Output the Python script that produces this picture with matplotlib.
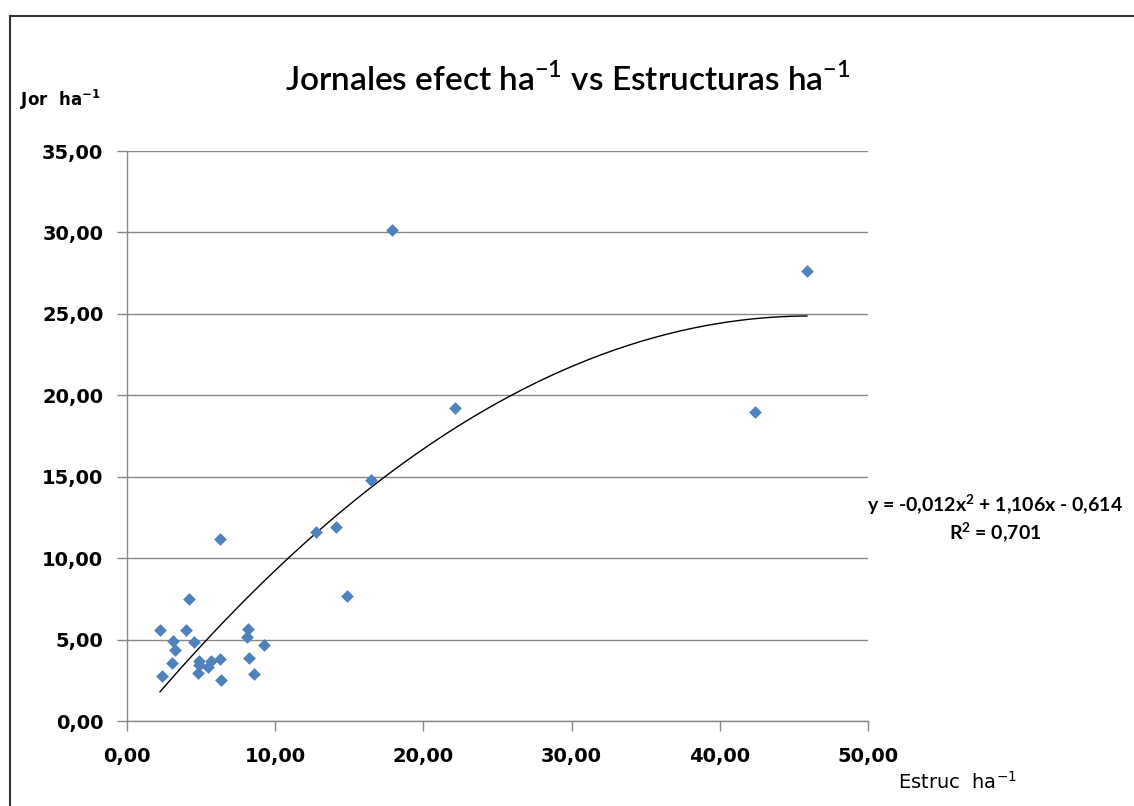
import numpy as np
import matplotlib
matplotlib.use("Agg")
import matplotlib.pyplot as plt
from matplotlib.lines import Line2D
from matplotlib.ticker import FuncFormatter

# data
estruc = [4.20, 2.23, 3.98, 3.12, 4.52, 3.26, 3.02, 2.38, 4.86, 4.86,
          4.81, 5.49, 5.65, 6.28, 6.32, 8.18, 8.08, 9.24, 8.25, 8.57,
          6.28, 12.75, 14.10, 14.84, 16.46, 17.88, 22.13, 42.38, 45.88]
jornales = [7.52, 5.58, 5.58, 4.90, 4.84, 4.35, 3.54, 2.78, 3.68, 3.43,
            2.92, 3.33, 3.68, 3.80, 2.51, 5.62, 5.17, 4.66, 3.88, 2.86,
            11.16, 11.59, 11.90, 7.66, 14.78, 30.17, 19.25, 18.95, 27.65]

# polynomial trend (from the chart's equation)
coef = [-0.012, 1.106, -0.614]
r2 = 0.701

x_ticks = [0, 10, 20, 30, 40, 50]
y_ticks = [0, 5, 10, 15, 20, 25, 30, 35]

fig = plt.figure(figsize=(11.34, 8.06), dpi=100)
ax = fig.add_axes([127/1134, 85/806, 741/1134, 570/806])

ax.scatter(estruc, jornales, marker="D", s=42, color="#4F81BD", zorder=3, linewidths=0)

xs = np.linspace(min(estruc), max(estruc), 200)
ax.plot(xs, np.polyval(coef, xs), color="black", lw=1.0, zorder=2)

ax.set_xlim(0, 50)
ax.set_ylim(0, 35)
ax.set_xticks(x_ticks)
ax.set_yticks(y_ticks)
fmt = FuncFormatter(lambda v, p: f"{v:.2f}".replace(".", ","))
ax.xaxis.set_major_formatter(fmt)
ax.yaxis.set_major_formatter(fmt)

for lab in ax.get_xticklabels() + ax.get_yticklabels():
    lab.set_fontweight("bold")
    lab.set_fontsize(14)
ax.tick_params(axis="both", direction="out", length=7, width=1, color="#888888")
ax.tick_params(axis="x", pad=12)
ax.tick_params(axis="y", pad=10)

ax.grid(axis="y", color="#888888", lw=1)
ax.set_axisbelow(True)
for s in ["top", "right"]:
    ax.spines[s].set_visible(False)
for s in ["left", "bottom"]:
    ax.spines[s].set_color("#888888")
    ax.spines[s].set_linewidth(1)

fig.text(568/1134, 1 - 80/806, r"Jornales efect ha$^{\mathregular{-1}}$ vs Estructuras ha$^{\mathregular{-1}}$",
         ha="center", va="center", fontsize=24, family="Lato", fontweight="semibold")
fig.text(20/1134, 1 - 100/806, r"Jor  ha$^{\mathregular{-1}}$", ha="left", va="center",
         fontsize=12, fontweight="bold")
fig.text(898/1134, 1 - 782/806, r"Estruc  ha$^{\mathregular{-1}}$", ha="left", va="center",
         fontsize=14)
fig.text(995/1134, 1 - 505/806, r"y = -0,012x$^{\mathregular{2}}$ + 1,106x - 0,614",
         ha="center", va="center", fontsize=14, fontweight="bold", family="Lato")
fig.text(995/1134, 1 - 533/806, r"R$^{\mathregular{2}}$ = " + f"{r2:.3f}".replace(".", ","),
         ha="center", va="center", fontsize=14, fontweight="bold", family="Lato")

# outer chart border (top and left visible)
fig.add_artist(Line2D([10/1134, 1], [1 - 16/806, 1 - 16/806], color="#333333", lw=1.5))
fig.add_artist(Line2D([10/1134, 10/1134], [0, 1 - 16/806], color="#333333", lw=1.5))

fig.savefig("out.png", dpi=100)
